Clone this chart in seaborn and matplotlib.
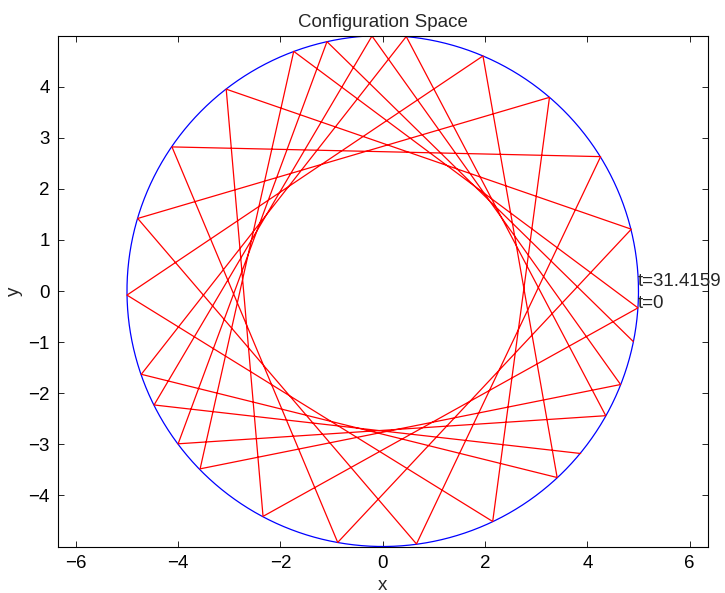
import numpy as np
import pandas as pd
import matplotlib
matplotlib.use("Agg")
import matplotlib.pyplot as plt
import seaborn as sns

# Circle (boundary) radius
radius = 5.0
# Trajectory vertices, in drawing order
traj_x = [4.90, -1.09, -4.00, 4.36, 0.46, -4.72, 3.41, 1.96, -5.00, 2.15,
          3.26, -4.79, 0.66, 4.26, -4.12, -0.88, 4.86, -3.06, -2.34, 4.99,
          -1.74, -3.57, 4.65, -0.21, -4.47, 3.87]
traj_y = [-0.99, 4.88, -2.99, -2.44, 4.98, -1.63, -3.65, 4.60, -0.08, -4.51,
          3.79, 1.42, -4.95, 2.63, 2.82, -4.92, 1.21, 3.95, -4.41, -0.33,
          4.69, -3.48, -1.83, 4.99, -2.23, -3.18]
label_texts = ["t=31.4159", "t=0"]
label_x = [4.99, 4.99]
label_y = [0.18, -0.25]
x_ticks = [-6, -4, -2, 0, 2, 4, 6]
y_ticks = [-4, -3, -2, -1, 0, 1, 2, 3, 4]

sns.set_style("white")
plt.rcParams["font.family"] = ["Liberation Sans", "DejaVu Sans"]
plt.rcParams["axes.unicode_minus"] = True

FS = 13.5
fig = plt.figure(figsize=(7.25, 5.93), dpi=100)
ax = fig.add_axes([0.0799, 0.0784, 0.896, 0.8617])

theta = np.linspace(0, 2 * np.pi, 400)
circ = pd.DataFrame({"x": radius * np.cos(theta), "y": radius * np.sin(theta)})
sns.lineplot(data=circ, x="x", y="y", sort=False, estimator=None, color="blue", lw=0.9, ax=ax)

traj = pd.DataFrame({"x": traj_x, "y": traj_y})
sns.lineplot(data=traj, x="x", y="y", sort=False, estimator=None, color="red", lw=0.9, ax=ax)

for t, lx, ly in zip(label_texts, label_x, label_y):
    ax.text(lx, ly, t, fontsize=FS, va="center", ha="left", clip_on=False)

ax.set_xlim(-6.35, 6.35)
ax.set_ylim(-5, 5)
ax.set_xticks(x_ticks)
ax.set_yticks(y_ticks)
ax.set_xticklabels([f"\u2212{abs(v)}" if v < 0 else str(v) for v in x_ticks])
ax.set_yticklabels([f"\u2212{abs(v)}" if v < 0 else str(v) for v in y_ticks])
ax.tick_params(direction="in", length=4.5, width=0.6, top=True, right=True,
               bottom=True, left=True, labelsize=FS, pad=6, colors="black")
for s in ax.spines.values():
    s.set_visible(True)
    s.set_color("black")
    s.set_linewidth(0.8)
ax.set_xlabel("x", fontsize=FS, labelpad=4)
ax.set_ylabel("y", fontsize=FS, labelpad=4)
ax.set_title("Configuration Space", fontsize=FS, pad=6)

fig.savefig("out.png", dpi=100)
